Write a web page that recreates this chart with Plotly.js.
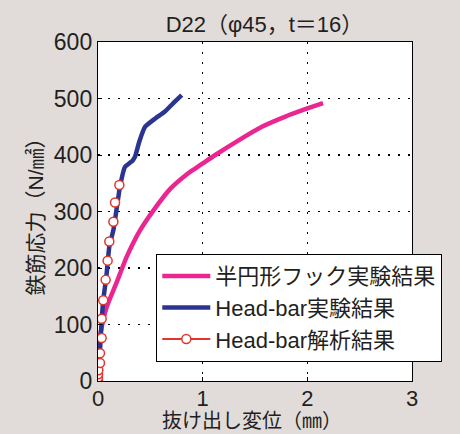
<!DOCTYPE html>
<html><head><meta charset="utf-8">
<script src="https://cdn.plot.ly/plotly-3.0.1.min.js"></script>
<style>body{margin:0;background:#e1dcd9;}#c{width:460px;height:434px;}</style>
</head><body><div id="c"></div>
<script>
// 半円形フック実験結果
const hookX = [0, 0.01, 0.019, 0.05, 0.083, 0.13, 0.179, 0.275, 0.40, 0.53, 0.69, 0.85, 0.928, 1.008, 1.12, 1.343, 1.566, 1.79, 1.98, 2.15];
const hookY = [0, 40, 78, 108, 131, 153, 175, 220, 266, 302, 340, 366, 376, 386, 400, 426, 450, 468, 481, 492];
// Head-bar実験結果
const headX = [0, 0.01, 0.018, 0.03, 0.05, 0.067, 0.083, 0.108, 0.147, 0.172, 0.21, 0.258, 0.33, 0.354, 0.395, 0.45, 0.55, 0.64, 0.72, 0.80];
const headY = [0, 20, 50, 90, 143, 167, 191, 238, 267, 297, 344, 379, 390, 397, 424, 450, 465, 477, 492, 506];
// Head-bar解析結果
const anaX = [0, 0, 0, 0.003, 0.019, 0.019, 0.035, 0.035, 0.05, 0.073, 0.092, 0.108, 0.147, 0.163, 0.204];
const anaY = [2, 6, 12, 19, 32, 49, 76, 110, 143, 179, 213, 247, 282, 316, 347];

const xTicks = [0, 1, 2, 3];
const yTicks = [0, 100, 200, 300, 400, 500, 600];
const names = ['半円形フック実験結果', 'Head-bar実験結果', 'Head-bar解析結果'];
const xTitle = '抜け出し変位（㎜）';
const yTitle = '鉄筋応力（N/㎟）';

const FONT = 'Liberation Sans, Arial, Noto Sans CJK JP, sans-serif';
const TXT = '#231f20';

const traces = [
  {x: hookX, y: hookY, mode: 'lines', name: names[0], line: {color: '#ea2690', width: 4.5, shape: 'spline', smoothing: 0.6}},
  {x: headX, y: headY, mode: 'lines', name: names[1], line: {color: '#2b3591', width: 4.5, shape: 'spline', smoothing: 0.4}},
  {x: anaX, y: anaY, mode: 'markers', name: names[2], showlegend: false,
   marker: {symbol: 'circle', size: 9, color: '#ffffff', line: {color: '#e0362b', width: 1.5}}},
  {x: [null], y: [null], mode: 'lines+markers', name: names[2],
   line: {color: '#e0362b', width: 2},
   marker: {symbol: 'circle', size: 9, color: '#ffffff', line: {color: '#e0362b', width: 1.5}}}
];

const axisCommon = {
  showline: true, linecolor: '#000', linewidth: 1.2, mirror: true,
  ticks: 'inside', ticklen: 4, tickcolor: '#000',
  showgrid: true, gridcolor: '#000', gridwidth: 1.2, griddash: '2px,8px',
  zeroline: false, tickfont: {family: FONT, size: 23, color: TXT}, automargin: false
};

const layout = {
  width: 460, height: 434,
  margin: {l: 98, r: 48, t: 42, b: 53, autoexpand: false},
  paper_bgcolor: '#e1dcd9', plot_bgcolor: '#ffffff',
  font: {family: FONT, color: TXT},
  title: {text: 'D22（φ45，t＝16）', font: {family: FONT, size: 22, color: TXT},
          x: 0.575, xanchor: 'center', y: 0.943, yanchor: 'middle'},
  xaxis: Object.assign({}, axisCommon, {range: [0, 3], tickvals: xTicks, ticktext: xTicks.map(String),
    tickfont: {family: FONT, size: 22, color: TXT}, ticklabelstandoff: -3}),
  yaxis: Object.assign({}, axisCommon, {range: [0, 600], tickvals: yTicks, ticktext: yTicks.map(String),
    title: {text: yTitle, font: {family: FONT, size: 21, color: TXT}, standoff: 4}}),
  annotations: [{text: xTitle, xref: 'paper', yref: 'paper', x: 0.49, y: -0.118,
    xanchor: 'center', yanchor: 'middle', showarrow: false, borderpad: 0,
    font: {family: FONT, size: 20, color: TXT}}],
  legend: {x: 0.185, y: 0.375, xanchor: 'left', yanchor: 'top',
    bgcolor: '#ffffff', bordercolor: '#000', borderwidth: 1.2,
    font: {family: FONT, size: 22, color: TXT}, tracegroupgap: 0, itemwidth: 48},
  showlegend: true
};

Plotly.newPlot('c', traces, layout, {displayModeBar: false, staticPlot: true});
</script>
</body></html>
